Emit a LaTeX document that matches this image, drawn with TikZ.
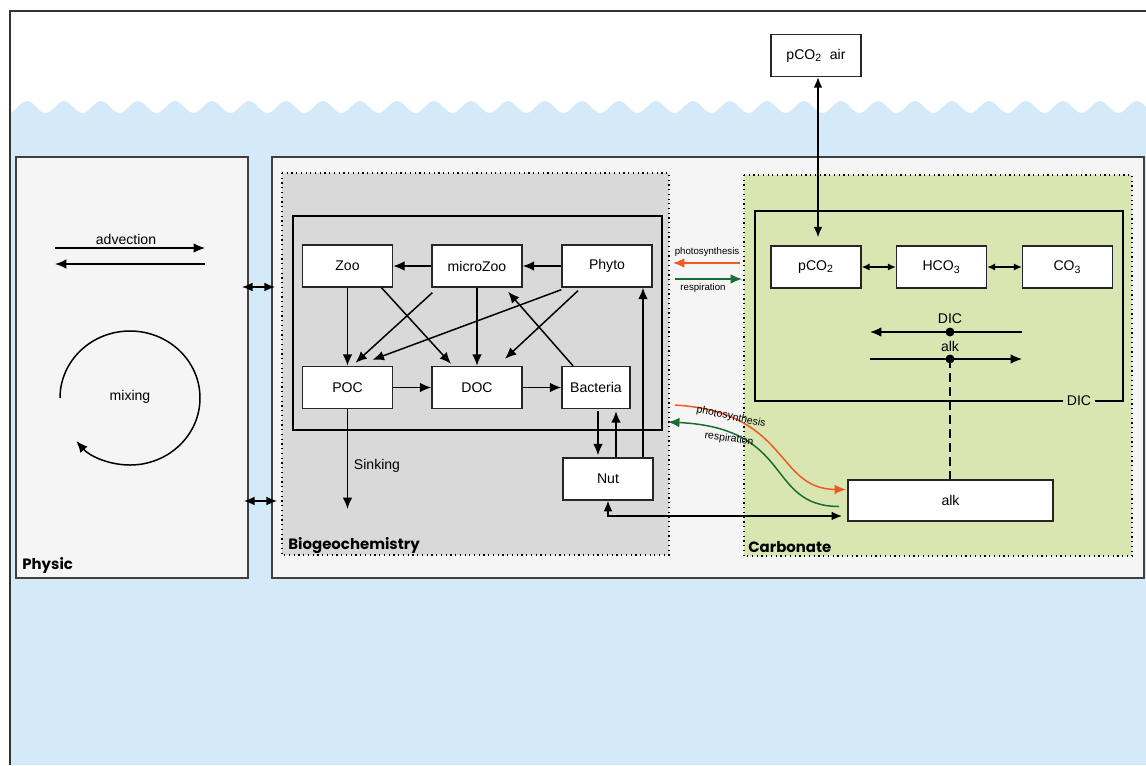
\documentclass[tikz,border=0pt]{standalone}
\usepackage{fontspec}
\setmainfont{Liberation Sans}
\newfontfamily\headfont{Poppins}
\usetikzlibrary{arrows.meta}
\usetikzlibrary{calc}

\definecolor{sea}{RGB}{212,234,248}
\definecolor{panel}{RGB}{245,245,245}
\definecolor{biogray}{RGB}{217,217,217}
\definecolor{carbgreen}{RGB}{217,230,178}
\definecolor{photored}{RGB}{240,88,38}
\definecolor{respgreen}{RGB}{22,110,52}

\tikzset{
    box/.style={draw=black!85, fill=white, line width=0.8pt, minimum width=1.8cm, minimum height=0.84cm, inner sep=0pt},
    arr/.style={line width=0.85pt, -{Latex[length=6.5pt,width=5.5pt]}},
    darr/.style={line width=0.85pt, {Latex[length=6pt,width=5pt]}-{Latex[length=6pt,width=5pt]}},
    smallarr/.style={line width=0.7pt, {Latex[length=4.5pt,width=4pt]}-{Latex[length=4.5pt,width=4pt]}},
    head/.style={font=\headfont\bfseries\fontsize{8.5}{10}\selectfont, anchor=base west, inner sep=0pt},
    tinylab/.style={font=\fontsize{5.5}{6.6}\selectfont, inner sep=0pt}
}

\begin{document}
\begin{tikzpicture}[x=0.02cm, y=-0.02cm, font=\fontsize{8}{9.6}\selectfont]
    \useasboundingbox (0,0) rectangle (1146,765);

    % the sea, wavy on top
    \fill [sea] (10,765) -- plot [domain=10:1146, samples=260, smooth] (\x, {107-6*cos(9.73*(\x-27))}) -- (1146,765) -- cycle;
    \draw [line width=0.8pt, black!80] (10,765) -- (10,11) -- (1146,11);

    % big panels
    \draw [fill=panel, draw=black!75, line width=0.6pt] (16,157) rectangle (248,578);
    \draw [fill=panel, draw=black!75, line width=0.6pt] (272,157) rectangle (1144,578);
    \draw [fill=biogray, dotted, line width=0.7pt] (282,173) rectangle (669,555);
    \draw [fill=carbgreen, dotted, line width=0.7pt] (744,175) rectangle (1132,556);

    \node [head] (physiclab) at (22,569) {Physic};
    \node [head] (biolab) at (288,549) {Biogeochemistry};
    \node [head] (carblab) at (748,552) {Carbonate};

    % physic side
    \node (advlab) at (126,239) {advection};
    \coordinate (advL1) at (55,248);
    \coordinate (advR1) at (205,248);
    \coordinate (advL2) at (55,264);
    \coordinate (advR2) at (205,264);
    \draw [arr] (advL1) -- (advR1);
    \draw [arr] (advR2) -- (advL2);

    \node (mixlab) at (130,397) {mixing};
    \draw [arr] (60,398) arc [start angle=180, end angle=500, x radius=70, y radius=67];

    \coordinate (exA1) at (242,287);
    \coordinate (exB1) at (275,287);
    \coordinate (exA2) at (244,501);
    \coordinate (exB2) at (277,501);
    \draw [darr] (exA1) -- (exB1);
    \draw [darr] (exA2) -- (exB2);

    % biogeochemistry
    \draw [line width=0.9pt] (293,216) rectangle (662,430);

    \node [box] (zoo) at (347.5,266) {Zoo};
    \node [box] (microzoo) at (477,266) {microZoo};
    \node [box] (phyto) at (607,266) {Phyto};
    \node [box] (poc) at (347.5,387.5) {POC};
    \node [box] (doc) at (477,387.5) {DOC};
    \node [box, minimum width=1.36cm] (bacteria) at (596,387.5) {Bacteria};
    \node [box] (nut) at (608,479) {Nut};

    \draw [arr] (phyto) -- (microzoo);
    \draw [arr] (microzoo) -- (zoo);
    \draw [arr] (zoo) -- (poc);
    \draw [arr] (microzoo) -- (doc);
    \draw [arr] (poc) -- (doc);
    \draw [arr] (doc) -- (bacteria);
    \draw [arr] ($(zoo.south)+(34,0)$) -- ($(doc.north)+(-26,-2)$);
    \draw [arr] ($(microzoo.south west)+(1,5)$) -- ($(poc.north)+(8,-3)$);
    \draw [arr] ($(phyto.south west)+(0,2)$) -- ($(poc.north)+(25,-6)$);
    \draw [arr] ($(phyto.south)+(-29,3)$) -- ($(doc.north)+(28,-7)$);
    \draw [arr] ($(bacteria.north)+(-23,0)$) -- ($(microzoo.south)+(31,4)$);

    \draw [arr] ($(bacteria.south)+(2,2)$) -- ($(nut.north)+(-10,-2)$);
    \draw [arr] ($(nut.north)+(8,0)$) -- ($(bacteria.south)+(20,2)$);
    \draw [arr] ($(nut.north)+(35,0)$) -- ($(phyto.south)+(36,0)$);

    \coordinate (sinkend) at (347.5,509);
    \draw [arr] (poc) -- (sinkend);
    \node (sinklab) at (377,466) {Sinking};

    % carbonate part
    \draw [line width=0.9pt] (755,211) rectangle (1123,401);
    \node [fill=carbgreen, inner sep=2pt] (diclab) at (1079,401) {DIC};

    \node [box] (pco2air) at (816,55.5) {pCO\textsubscript{2}\ \ air};
    \node [box] (pco2) at (816,267) {pCO\textsubscript{2}};
    \node [box] (hco3) at (941.5,267) {HCO\textsubscript{3}};
    \node [box] (co3) at (1067.5,267) {CO\textsubscript{3}};
    \node [box, minimum width=4.1cm, minimum height=0.82cm, line width=1.1pt] (alk) at (950.5,500.5) {alk};

    \draw [darr] ($(pco2air.south)+(2,0)$) -- ($(pco2.north)+(2,-8)$);
    \draw [smallarr] (pco2) -- (hco3);
    \draw [smallarr] (hco3) -- (co3);

    \coordinate (dicR) at (1022,332);
    \coordinate (dicL) at (870,332);
    \coordinate (alkL) at (870,359);
    \coordinate (alkR) at (1022,359);
    \draw [arr] (dicR) -- (dicL);
    \draw [arr] (alkL) -- (alkR);
    \fill (950,332) circle [radius=4.5] coordinate (dicdot);
    \fill (950,359) circle [radius=4.5] coordinate (alkdot);
    \node (diclab2) at (950,319) {DIC};
    \node (alklab) at (950,346) {alk};
    \draw [dashed, dash pattern=on 5pt off 3pt, line width=0.8pt] (alkdot) -- (alkdot |- alk.north);

    % fluxes between the two boxes
    \coordinate (photoA) at (740,263);
    \coordinate (photoB) at (673,263);
    \coordinate (respA) at (675,279);
    \coordinate (respB) at (742,279);
    \draw [arr, photored] (photoA) -- (photoB);
    \draw [arr, respgreen] (respA) -- (respB);
    \node [tinylab] (photolab) at (707,252) {photosynthesis};
    \node [tinylab] (resplab) at (703,288) {respiration};

    \coordinate (photoC) at (675,405);
    \coordinate (respC) at (668,422);
    \draw [arr, photored] (photoC) .. controls (790,412) and (775,489) .. ($(alk.west)+(-1,-11)$);
    \draw [arr, respgreen] ($(alk.west)+(-8,6)$) .. controls (765,506) and (795,428) .. (respC);
    \node [tinylab, font=\fontsize{6}{7}\selectfont, rotate=-12] (photolab2) at (731,417) {photosynthesis};
    \node [tinylab, font=\fontsize{6}{7}\selectfont, rotate=-8] (resplab2) at (729,439) {respiration};

    \draw [darr] (nut.south) |- ($(alk.south west)+(-5,-6)$);
\end{tikzpicture}
\end{document}
